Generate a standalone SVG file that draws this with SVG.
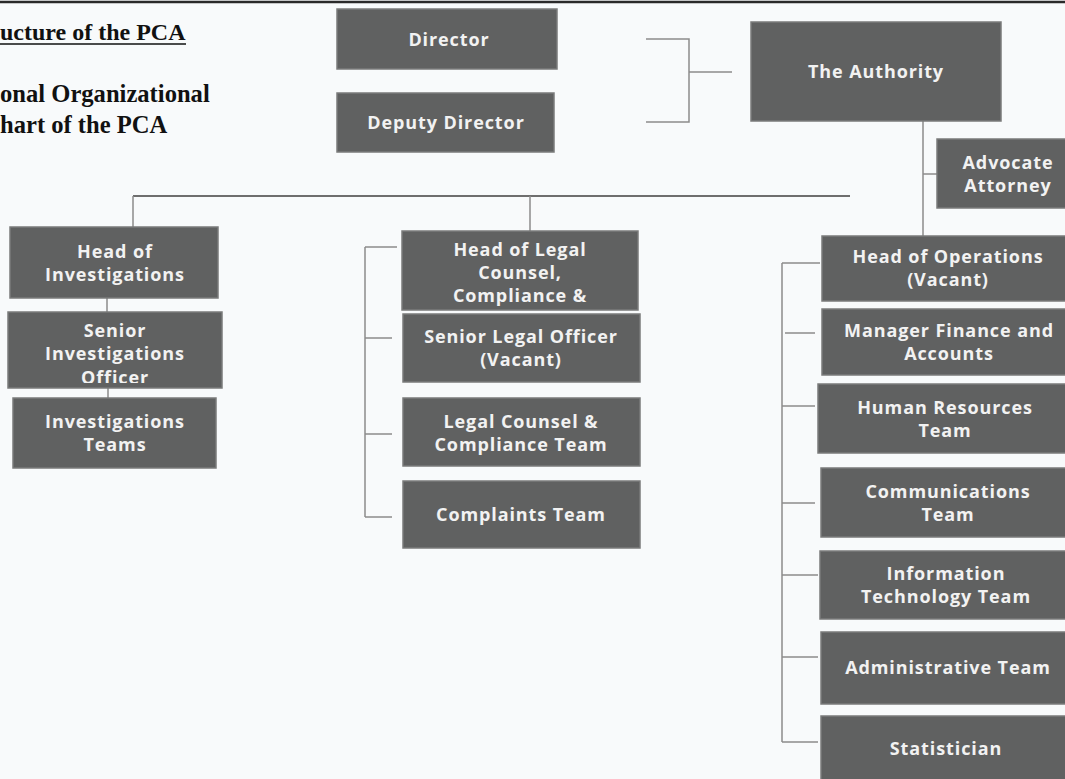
<svg xmlns="http://www.w3.org/2000/svg" width="1065" height="779" viewBox="0 0 1065 779">
<style>
.bg{fill:#f8fafb}
.box{fill:#606161;stroke:#7a7b7b;stroke-width:1.5}
.t{font-family:"Open Sans","DejaVu Sans",sans-serif;font-weight:bold;font-size:18px;letter-spacing:0.9px;fill:#f2f2f2;text-anchor:middle}
.title{font-family:"Liberation Serif","Times New Roman",serif;font-weight:bold;font-size:24.6px;fill:#111}
.ln{stroke:#8c8c8c;stroke-width:1.5;fill:none}
.main{stroke:#6e6e6e;stroke-width:2;fill:none}
</style>
<defs>
<clipPath id="clipSIO"><rect x="8" y="312" width="214" height="71"/></clipPath>
<clipPath id="clipHLC"><rect x="402" y="231" width="236" height="79"/></clipPath>
</defs>
<rect class="bg" x="0" y="0" width="1065" height="779"/>
<line x1="0" y1="2" x2="1065" y2="2" stroke="#2a2a2a" stroke-width="2.5"/>
<g id="title">
<text class="title" x="0" y="40" style="font-size:24px">ucture of the PCA</text>
<line x1="0" y1="44" x2="186" y2="44" stroke="#111" stroke-width="1.3"/>
<text class="title" x="0" y="102">onal Organizational</text>
<text class="title" x="0" y="133">hart of the PCA</text>
</g>
<g id="connectors">
<path class="ln" d="M646 39 H689 V122 H646 M689 72 H732"/>
<path class="ln" d="M923 121 V236 M923 174 H937"/>
<path class="main" d="M133 196 H850"/>
<path class="ln" d="M133 196 V227 M530 196 V231"/>
<path class="ln" d="M107 298 V312 M108 388 V398"/>
<path class="ln" d="M365 247 V517 M365 247 H397 M365 338 H392 M365 434 H392 M365 517 H392"/>
<path class="ln" d="M782 263 V742 M782 263 H820 M785 333 H815 M782 406 H815 M782 503 H815 M782 575 H818 M782 657 H818 M782 742 H818"/>
</g>
<g id="director"><rect class="box" x="337" y="9" width="220" height="60"/><text class="t" x="449" y="46">Director</text></g>
<g id="deputy-director"><rect class="box" x="337" y="93" width="217" height="59"/><text class="t" x="446" y="129">Deputy Director</text></g>
<g id="authority"><rect class="box" x="751" y="22" width="250" height="99"/><text class="t" x="876" y="78">The Authority</text></g>
<g id="advocate-attorney"><rect class="box" x="937" y="139" width="130" height="69"/><text class="t" x="1008" y="169">Advocate</text><text class="t" x="1008" y="192">Attorney</text></g>
<g id="head-investigations"><rect class="box" x="10" y="227" width="208" height="71"/><text class="t" x="115" y="258">Head of</text><text class="t" x="115" y="281">Investigations</text></g>
<g id="senior-investigations-officer"><rect class="box" x="8" y="312" width="214" height="76"/><g clip-path="url(#clipSIO)"><text class="t" x="115" y="337">Senior</text><text class="t" x="115" y="360">Investigations</text><text class="t" x="115" y="384">Officer</text></g></g>
<g id="investigations-teams"><rect class="box" x="13" y="398" width="203" height="70"/><text class="t" x="115" y="428">Investigations</text><text class="t" x="115" y="451">Teams</text></g>
<g id="head-legal"><rect class="box" x="402" y="231" width="236" height="79"/><g clip-path="url(#clipHLC)"><text class="t" x="520" y="256">Head of Legal</text><text class="t" x="520" y="279">Counsel,</text><text class="t" x="520" y="302">Compliance &amp;</text></g></g>
<g id="senior-legal-officer"><rect class="box" x="403" y="314" width="237" height="68"/><text class="t" x="521" y="343">Senior Legal Officer</text><text class="t" x="521" y="366">(Vacant)</text></g>
<g id="legal-counsel-team"><rect class="box" x="403" y="398" width="237" height="68"/><text class="t" x="521" y="428">Legal Counsel &amp;</text><text class="t" x="521" y="451">Compliance Team</text></g>
<g id="complaints-team"><rect class="box" x="403" y="481" width="237" height="67"/><text class="t" x="521" y="521">Complaints Team</text></g>
<g id="head-operations"><rect class="box" x="822" y="236" width="250" height="65"/><text class="t" x="948" y="263">Head of Operations</text><text class="t" x="948" y="286">(Vacant)</text></g>
<g id="manager-finance"><rect class="box" x="822" y="309" width="250" height="66"/><text class="t" x="949" y="337">Manager Finance and</text><text class="t" x="949" y="360">Accounts</text></g>
<g id="human-resources"><rect class="box" x="818" y="384" width="254" height="69"/><text class="t" x="945" y="414">Human Resources</text><text class="t" x="945" y="437">Team</text></g>
<g id="communications"><rect class="box" x="821" y="468" width="251" height="69"/><text class="t" x="948" y="498">Communications</text><text class="t" x="948" y="521">Team</text></g>
<g id="information-technology"><rect class="box" x="820" y="551" width="252" height="68"/><text class="t" x="946" y="580">Information</text><text class="t" x="946" y="603">Technology Team</text></g>
<g id="administrative"><rect class="box" x="821" y="632" width="251" height="72"/><text class="t" x="948" y="674">Administrative Team</text></g>
<g id="statistician"><rect class="box" x="821" y="716" width="251" height="70"/><text class="t" x="946" y="755">Statistician</text></g>
</svg>
